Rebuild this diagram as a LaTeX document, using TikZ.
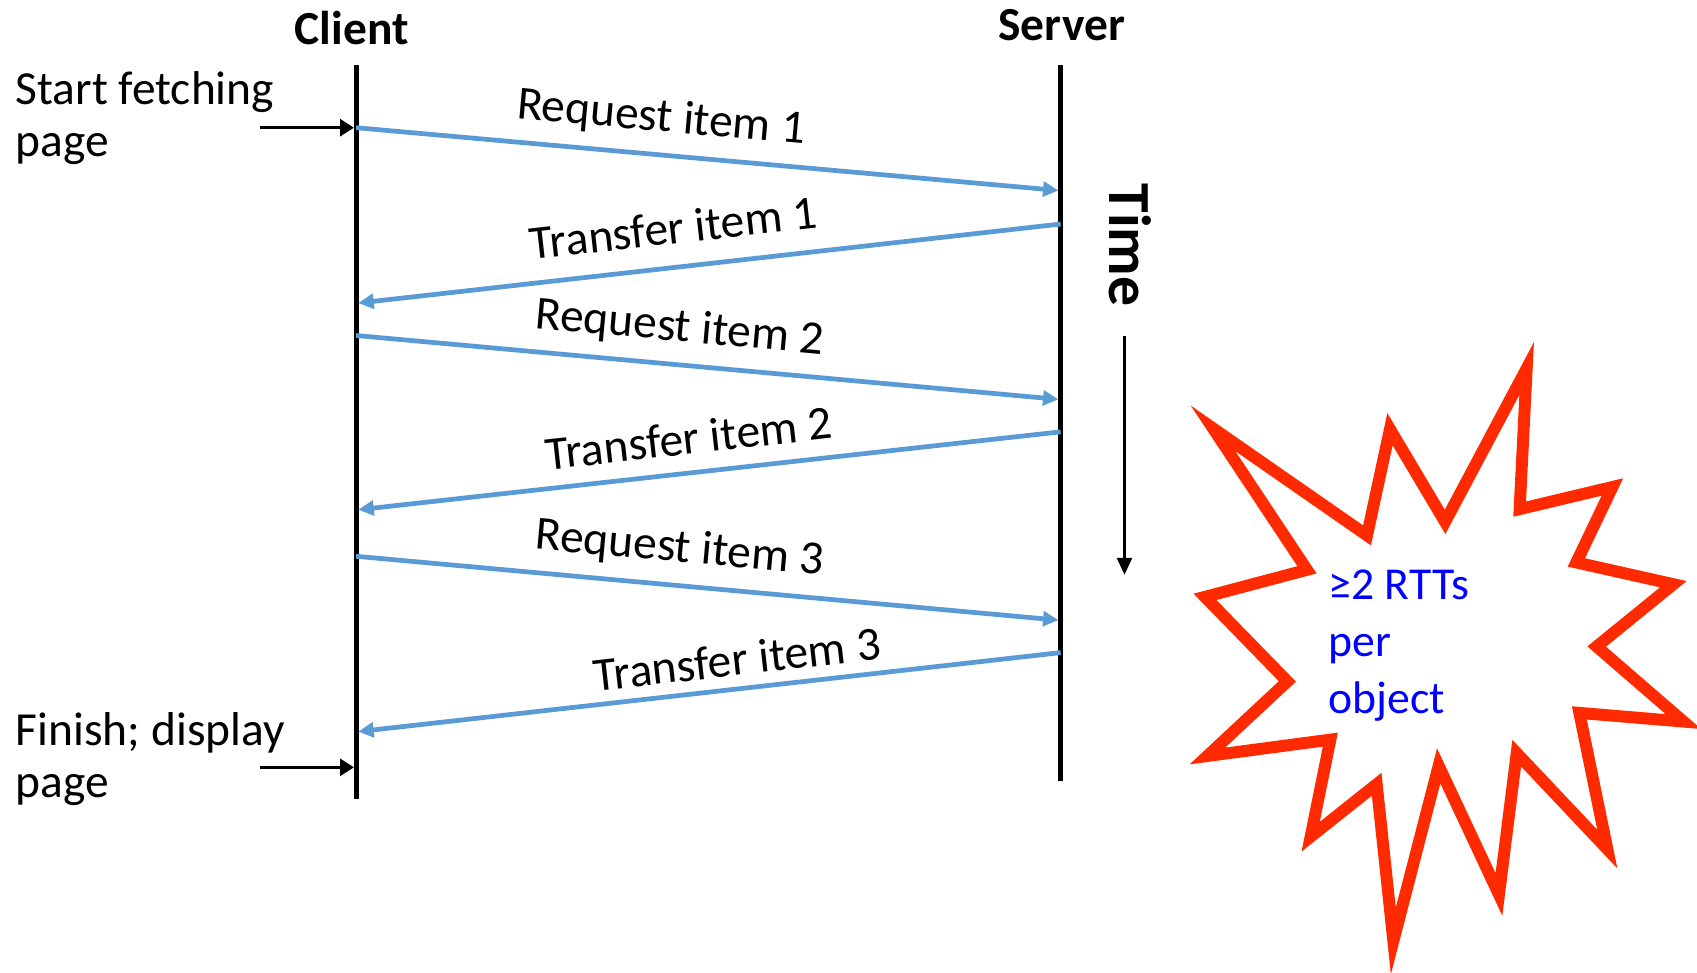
\documentclass[tikz,border=0pt]{standalone}
\usepackage{fontspec}
\setmainfont{Carlito}
\usetikzlibrary{arrows.meta}
\definecolor{msgblue}{HTML}{5B9BD5}
\definecolor{burstred}{HTML}{FF2A00}
\definecolor{notecol}{HTML}{0000FF}
\newcommand{\lblfont}{\fontsize{13.5pt}{14.8pt}\selectfont}
\newcommand{\notefont}{\fontsize{13pt}{16.2pt}\selectfont}
\newcommand{\headfont}{\fontsize{13.5pt}{15pt}\selectfont\bfseries}
\newcommand{\timefont}{\fontsize{17pt}{19pt}\selectfont\bfseries}
\tikzset{
  lifeline/.style={line width=1.45pt},
  msg/.style={draw=msgblue, line width=1.35pt, -{Triangle[length=4.4pt,width=4.2pt]}},
  msglabel/.style={sloped, font=\lblfont, inner sep=3.33pt, text depth=2.7pt},
  pointer/.style={line width=0.8pt, -{Triangle[length=3.9pt,width=4.8pt]}},
  timearrow/.style={line width=0.65pt, -{Triangle[length=4.8pt,width=4.3pt]}},
  sidetext/.style={font=\lblfont, align=left, anchor=base west, inner sep=0pt},
  headtext/.style={font=\headfont, anchor=base, inner sep=0pt},
  burst/.style={draw=burstred, line width=3.4pt, line join=miter, miter limit=20},
}
\begin{document}
\begin{tikzpicture}[x=0.010823cm, y=-0.010823cm]
\useasboundingbox (0,0) rectangle (1568,899);
\clip (0,0) rectangle (1568,899);

% headings
\node[headtext] (client) at (325,40.7) {Client};
\node[headtext] (server) at (981,37) {Server};

% lifelines
\coordinate (cT) at (329,60);
\coordinate (cB) at (329,738);
\coordinate (sT) at (980,60);
\coordinate (sB) at (980,722);
\draw[lifeline] (cT) -- (cB);
\draw[lifeline] (sT) -- (sB);

% side texts (anchor = baseline of the last line)
\node[sidetext] (start) at (14,145) {Start fetching\\page};
\node[sidetext] (finish) at (14,737) {Finish; display\\page};
\coordinate (startA) at (240,118);
\coordinate (startB) at (327,118);
\coordinate (finA) at (240,709);
\coordinate (finB) at (327,709);
\draw[pointer] (startA) -- (startB);
\draw[pointer] (finA) -- (finB);

% message end points
\coordinate (c1) at (329,118); \coordinate (s1) at (978,176);
\coordinate (s2) at (980,207); \coordinate (c2) at (331,280);
\coordinate (c3) at (329,310); \coordinate (s3) at (978,369);
\coordinate (s4) at (980,399); \coordinate (c4) at (331,471);
\coordinate (c5) at (329,514); \coordinate (s5) at (978,573);
\coordinate (s6) at (980,603); \coordinate (c6) at (331,676);

\draw[msg] (c1) -- node[msglabel, pos=0.43, above=0pt] {Request item 1} (s1);
\draw[msg] (s2) -- node[msglabel, pos=0.545, above=0pt] {Transfer item 1} (c2);
\draw[msg] (c3) -- node[msglabel, pos=0.456, above=0pt] {Request item 2} (s3);
\draw[msg] (s4) -- node[msglabel, pos=0.524, above=-1.4pt] {Transfer item 2} (c4);
\draw[msg] (c5) -- node[msglabel, pos=0.456, above=0pt] {Request item 3} (s5);
\draw[msg] (s6) -- node[msglabel, pos=0.456, above=-2.9pt] {Transfer item 3} (c6);

% time
\node[font=\timefont, rotate=-90, inner sep=0pt] (time) at (1044,226.5) {Time};
\coordinate (t0) at (1039,310);
\coordinate (t1) at (1039,531);
\draw[timearrow] (t0) -- (t1);

% burst
\draw[burst] (1120.8,395.8) -- (1263.1,494.7) -- (1284.3,396.6) -- (1335.2,482.2)
  -- (1410.6,340.5) -- (1404.1,470.4) -- (1489.8,450.0) -- (1456.5,519.7)
  -- (1546.1,539.8) -- (1475.3,597.4) -- (1555.4,666.7) -- (1459.3,658.7)
  -- (1485.1,784.5) -- (1401.4,695.9) -- (1385.0,826.5) -- (1329.3,707.6)
  -- (1287.4,869.4) -- (1272.0,724.6) -- (1211.0,773.1) -- (1229.2,683.4)
  -- (1115.6,698.5) -- (1189.5,629.6) -- (1113.4,551.5) -- (1207.6,526.5) -- cycle;
\node[font=\notefont, text=notecol, align=left, anchor=base west, inner sep=0pt] (note) at (1227,659) {≥2 RTTs\\per\\object};
\end{tikzpicture}
\end{document}
